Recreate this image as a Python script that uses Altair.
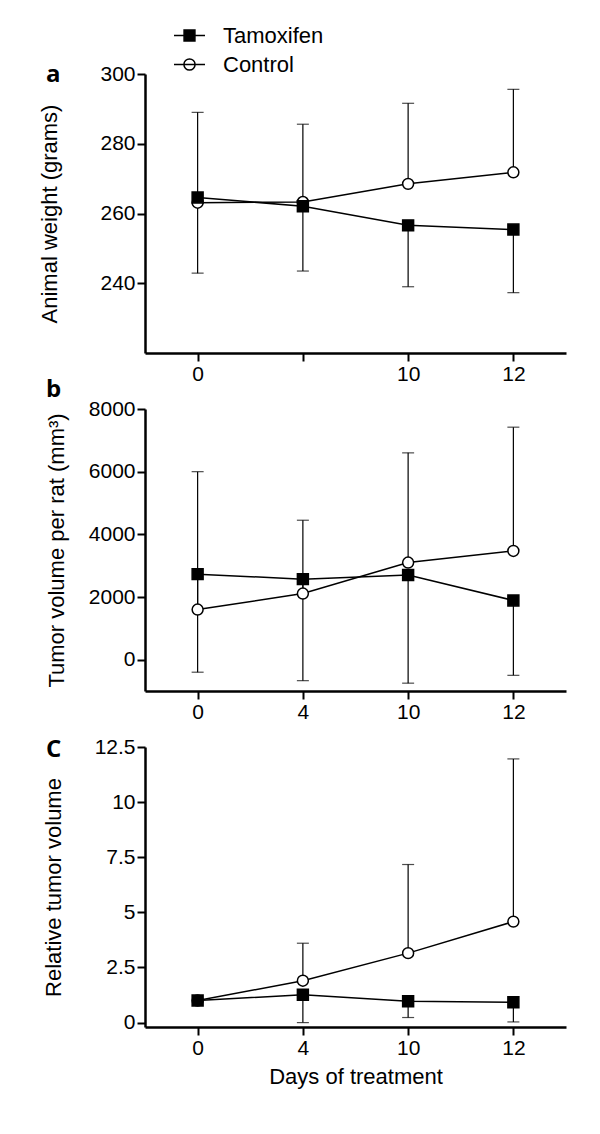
import altair as alt
import pandas as pd

FONT = "Liberation Sans"
LABEL_FONT = "Open Sans"

days = ["0", "4", "10", "12"]
series_names = ["Tamoxifen", "Control"]

# Panel a: animal weight (grams)
weight_tamoxifen = [264.6, 262.1, 256.6, 255.4]
weight_tamoxifen_err = [242.9, 243.5, 239.0, 237.3]
weight_control = [263.1, 263.3, 268.5, 271.8]
weight_control_err = [289.0, 285.6, 291.6, 295.6]

# Panel b: tumor volume per rat (mm3)
volume_tamoxifen = [2730, 2570, 2700, 1890]
volume_tamoxifen_err = [-400, -670, -750, -500]
volume_control = [1600, 2110, 3100, 3470]
volume_control_err = [6000, 4450, 6600, 7420]

# Panel c: relative tumor volume
relative_tamoxifen = [1.0, 1.26, 0.97, 0.92]
relative_tamoxifen_err = [1.0, 0.0, 0.23, 0.03]
relative_control = [1.0, 1.9, 3.15, 4.58]
relative_control_err = [1.0, 3.6, 7.17, 11.96]


def make_df(tam, tam_err, ctl, ctl_err):
    rows = []
    for i, d in enumerate(days):
        rows.append(dict(series="Control", idx=i, day=d, value=ctl[i], bound=ctl_err[i]))
    for i, d in enumerate(days):
        rows.append(dict(series="Tamoxifen", idx=i, day=d, value=tam[i], bound=tam_err[i]))
    return pd.DataFrame(rows)


PATH_TAM = "M-1,0H1M-0.35,-0.35H0.35V0.35H-0.35Z"
PATH_CTL = "M-1,0H1M0.36,0A0.36,0.36 0 1,1 -0.36,0A0.36,0.36 0 1,1 0.36,0Z"


def panel(df, ytitle, ydomain, yticks, yfmt, xlabels, title_x, label, label_dy,
          height, with_legend=False, xtitle=None):
    label_js = "[" + ",".join("'" + s + "'" for s in xlabels) + "]"
    x = alt.X(
        "idx:Q",
        scale=alt.Scale(domain=[-0.5, 3.5], nice=False, zero=False),
        axis=alt.Axis(values=[0, 1, 2, 3], labelExpr=label_js + "[datum.value]",
                      title=xtitle if xtitle else None, titlePadding=8),
    )
    yaxis = alt.Axis(values=yticks, format=yfmt, title=ytitle, titleX=title_x,
                     titleY=height / 2, titleBaseline="middle", titleAngle=270)
    yscale = alt.Scale(domain=ydomain, nice=False, zero=False)
    base = alt.Chart(df)

    rules = base.transform_filter("datum.bound != datum.value").mark_rule(
        color="black", strokeWidth=1.2
    ).encode(x=x, y=alt.Y("value:Q", scale=yscale, axis=yaxis), y2="bound:Q")

    caps = base.transform_filter("datum.bound != datum.value").mark_tick(
        orient="horizontal", size=12, thickness=1.2, color="black"
    ).encode(x=x, y=alt.Y("bound:Q", scale=yscale, axis=yaxis))

    lines = base.mark_line(color="black", strokeWidth=1.5).encode(
        x=x, y=alt.Y("value:Q", scale=yscale, axis=yaxis), detail="series:N"
    )

    points = base.mark_point(filled=True, stroke="black", strokeWidth=1.5, size=120, opacity=1).encode(
        x=x,
        y=alt.Y("value:Q", scale=yscale, axis=yaxis),
        shape=alt.Shape("series:N", scale=alt.Scale(domain=series_names, range=["square", "circle"]), legend=None),
        fill=alt.Fill("series:N", scale=alt.Scale(domain=series_names, range=["black", "white"]), legend=None),
    )

    layers = [rules, caps, lines, points]

    if with_legend:
        leg = alt.Legend(
            orient="none", legendX=28, legendY=-55, direction="vertical", title=None,
            symbolSize=961, symbolStrokeWidth=1.5, symbolStrokeColor="black",
            labelFontSize=22, labelFont=FONT, labelColor="black", labelOffset=17,
            rowPadding=1, padding=0, symbolOpacity=1,
        )
        legend_layer = base.transform_calculate(legend_series="datum.series").transform_filter(
            "false"
        ).mark_point(filled=True, strokeWidth=1.5).encode(
            x=x,
            y=alt.Y("value:Q", scale=yscale, axis=yaxis),
            shape=alt.Shape("legend_series:N", scale=alt.Scale(domain=series_names, range=[PATH_TAM, PATH_CTL]), legend=leg),
            fill=alt.Fill("legend_series:N", scale=alt.Scale(domain=series_names, range=["black", "white"]), legend=leg),
            stroke=alt.Stroke("legend_series:N", scale=alt.Scale(domain=series_names, range=["black", "black"]), legend=leg),
        )
        layers.append(legend_layer)

    chart = alt.layer(*layers).properties(
        width=421, height=height,
        title=alt.TitleParams(text=label, anchor="start", frame="group", dx=-99, dy=label_dy,
                              offset=0, fontSize=24, fontWeight="bold", font=LABEL_FONT,
                              color="black"),
    )
    if with_legend:
        chart = chart.resolve_scale(shape="independent", fill="independent", stroke="independent")
    return chart


df_a = make_df(weight_tamoxifen, weight_tamoxifen_err, weight_control, weight_control_err)
df_b = make_df(volume_tamoxifen, volume_tamoxifen_err, volume_control, volume_control_err)
df_c = make_df(relative_tamoxifen, relative_tamoxifen_err, relative_control, relative_control_err)

panel_a = panel(df_a, "Animal weight (grams)", [220, 300], [240, 260, 280, 300], "d",
                ["0", "", "10", "12"], -96, "a", 68, 279, with_legend=True)
panel_b = panel(df_b, "Tumor volume per rat (mm³)", [-1000, 8000], [0, 2000, 4000, 6000, 8000], "d",
                days, -89, "b", 4, 282)
panel_c = panel(df_c, "Relative tumor volume", [-0.2, 12.5], [0, 2.5, 5, 7.5, 10, 12.5], ".1~f",
                days, -92, "C", 26, 280, xtitle="Days of treatment")

chart = alt.vconcat(panel_a, panel_b, panel_c, spacing=56, bounds="flush").properties(
    padding={"left": 30, "top": 11, "right": 5, "bottom": 5}
).configure_view(stroke=None).configure_axis(
    grid=False,
    domainColor="black", domainWidth=2.5,
    tickColor="black", tickWidth=2, tickSize=8,
    labelFont=FONT, labelFontSize=21, labelColor="black", labelPadding=2,
    titleFont=FONT, titleFontSize=22, titleFontWeight="normal", titleColor="black",
)

chart.save("out.html", embed_options={"renderer": "svg", "actions": False})
